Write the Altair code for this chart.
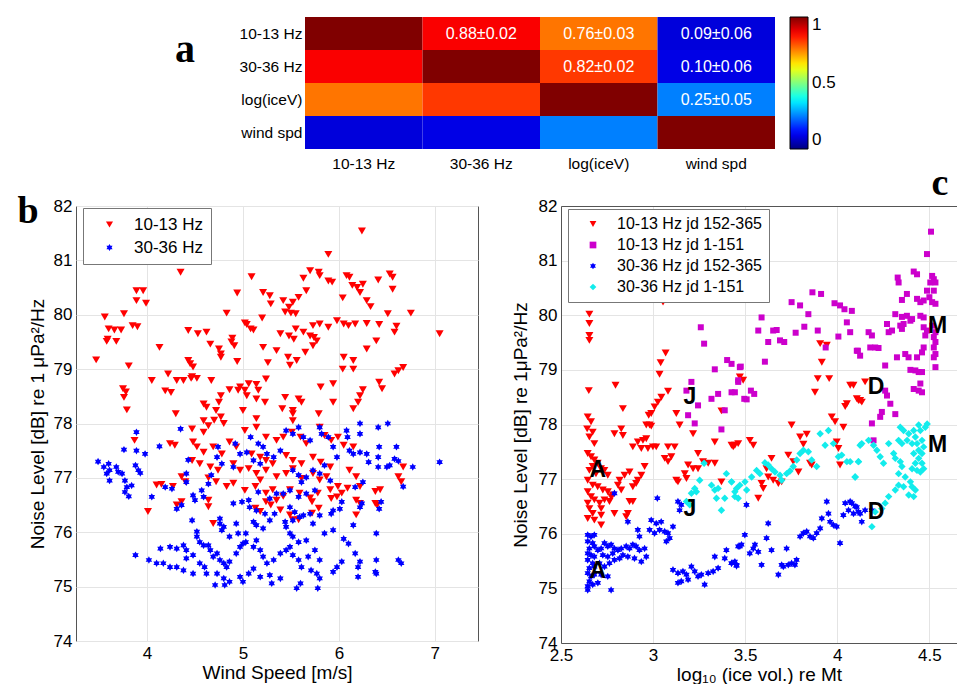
import altair as alt
import pandas as pd

FONT = "Liberation Sans"
SERIF = "Liberation Serif"
FRAME = "#555555"

# ---------------- panel a : correlation matrix ----------------
ROWS = ["10-13 Hz", "30-36 Hz", "log(iceV)", "wind spd"]
CORR = [[1.00, 0.88, 0.76, 0.09],
        [0.88, 1.00, 0.82, 0.10],
        [0.76, 0.82, 1.00, 0.25],
        [0.09, 0.10, 0.25, 1.00]]
CORR_TEXT = [["", "0.88±0.02", "0.76±0.03", "0.09±0.06"],
             ["", "", "0.82±0.02", "0.10±0.06"],
             ["", "", "", "0.25±0.05"],
             ["", "", "", ""]]
JET_STOPS = [0, 0.125, 0.375, 0.625, 0.875, 1]
JET_COLORS = ["#000080", "#0000ff", "#00ffff", "#ffff00", "#ff0000", "#800000"]

# ---------------- panel b : noise vs wind speed ----------------
B_SERIES = ["10-13 Hz", "30-36 Hz"]
B_RED = [(6.24,81.54),(5.89,81.11),(4.35,80.78),(5.09,80.70),(5.70,80.81),(5.79,80.78),(5.80,80.72),(5.63,80.67),(6.08,80.72),(6.11,80.69),(6.41,80.64),(6.53,80.75),(6.56,80.69),(6.14,80.54),(6.19,80.50),(6.25,80.56),(5.89,80.62),(5.93,80.60),(3.89,80.44),(3.96,80.44),(3.89,80.26),(3.99,80.21),(4.94,80.40),(5.66,80.44),(5.58,80.32),(5.52,80.23),(6.04,80.31),(6.56,80.47),(6.22,80.41),(6.29,80.26),(6.33,80.15),(5.21,80.41),(5.28,80.35),(5.29,80.20),(5.42,80.26),(5.48,80.14),(3.56,79.96),(3.76,80.02),(6.75,80.03),(6.51,80.02),(4.83,80.03),(5.44,80.05),(5.50,80.03),(5.55,80.02),(5.20,79.94),(5.98,79.89),(5.04,79.82),(5.02,79.85),(3.60,79.74),(3.66,79.72),(3.73,79.72),(3.59,79.55),(3.58,79.51),(3.68,79.51),(3.85,79.80),(3.90,79.78),(3.47,79.17),(4.43,79.71),(4.53,79.65),(4.62,79.68),(4.89,79.57),(4.88,79.50),(4.91,79.43),(4.66,79.46),(4.75,79.37),(4.77,79.28),(4.77,79.22),(5.08,79.74),(5.11,79.72),(5.39,79.65),(5.48,79.61),(5.53,79.55),(5.55,79.74),(5.63,79.68),(5.70,79.61),(5.74,79.58),(5.73,79.80),(5.80,79.83),(5.89,79.77),(6.05,79.83),(6.10,79.80),(6.17,79.83),(6.29,79.84),(6.42,79.82),(6.60,79.79),(6.58,79.68),(7.05,79.65),(5.21,79.40),(5.35,79.34),(5.47,79.22),(5.56,79.16),(5.49,79.07),(5.65,79.31),(5.73,79.43),(5.77,79.52),(6.29,79.37),(6.39,79.52),(6.05,79.22),(6.15,79.16),(5.26,79.12),(4.94,79.14),(4.43,79.16),(4.45,79.10),(4.48,79.04),(4.47,78.86),(4.13,79.40),(3.81,79.06),(4.05,78.79),(4.22,78.91),(4.31,78.79),(4.38,78.79),(4.46,78.83),(4.52,78.83),(3.75,78.64),(3.78,78.58),(3.76,78.48),(3.79,78.25),(4.19,78.60),(4.25,78.57),(4.67,78.79),(4.97,78.67),(5.06,78.73),(5.02,78.61),(5.04,78.51),(5.14,78.72),(5.16,78.61),(5.24,78.82),(4.86,78.62),(4.95,78.61),(4.77,78.51),(4.75,78.39),(4.59,78.36),(4.62,78.30),(4.30,78.18),(5.14,78.45),(5.23,78.39),(5.44,78.48),(5.58,78.45),(5.61,78.39),(5.52,78.24),(5.81,78.67),(5.94,78.39),(5.94,78.73),(6.04,79.00),(6.15,79.00),(6.42,78.76),(6.45,78.64),(6.25,78.62),(6.22,78.51),(6.20,78.39),(6.15,78.27),(6.67,79.03),(6.62,78.97),(6.58,78.91),(5.41,78.27),(5.52,78.18),(5.52,78.05),(5.79,78.18),(5.00,78.24),(5.14,78.09),(4.72,78.24),(4.77,78.12),(4.70,78.06),(4.80,78.00),(4.47,77.90),(4.59,77.84),(4.64,77.96),(4.59,78.05),(3.87,77.69),(4.24,77.63),(4.29,77.60),(5.02,77.87),(5.14,77.93),(5.24,77.75),(5.35,77.69),(5.42,77.75),(5.51,77.84),(5.60,77.75),(5.66,77.63),(5.80,77.93),(5.85,77.78),(5.92,77.69),(5.99,77.75),(6.05,77.60),(6.15,77.57),(4.48,77.66),(4.52,77.57),(4.59,77.47),(4.69,77.57),(4.78,77.44),(4.86,77.66),(4.93,77.57),(5.09,77.44),(5.18,77.38),(5.24,77.32),(5.31,77.26),(5.45,77.41),(5.52,77.32),(5.61,77.26),(5.73,77.38),(5.81,77.29),(5.91,77.20),(4.47,77.32),(4.55,77.26),(4.66,77.20),(4.74,77.14),(4.90,77.26),(4.97,77.14),(5.06,77.17),(5.14,77.08),(5.24,77.14),(5.35,77.02),(5.45,77.08),(5.52,77.17),(5.61,76.99),(5.73,77.08),(5.80,76.96),(5.87,77.02),(6.11,77.14),(6.18,77.02),(6.62,77.02),(6.65,76.93),(6.67,77.20),(4.36,77.02),(4.40,76.93),(4.27,76.84),(4.10,76.87),(4.15,76.88),(4.64,77.00),(4.72,76.93),(4.83,76.84),(4.90,76.90),(5.02,76.77),(5.13,76.84),(5.18,76.96),(5.24,76.72),(5.31,76.78),(5.42,76.66),(5.49,76.78),(5.59,76.72),(5.70,76.63),(5.78,76.72),(5.91,76.78),(5.99,76.84),(6.03,76.72),(6.09,76.81),(6.22,76.84),(6.38,76.75),(6.43,76.78),(6.18,76.59),(6.22,76.53),(6.38,76.53),(6.40,76.50),(5.24,76.56),(5.29,76.50),(5.35,76.59),(5.13,76.44),(5.18,76.38),(4.36,76.56),(4.31,76.50),(4.01,76.38),(4.64,76.59),(4.64,76.47),(4.69,76.16),(5.39,76.41),(5.49,76.32),(5.52,76.23),(5.58,76.23),(5.72,76.56),(5.79,76.44),(5.72,76.35),(6.18,76.32),(5.92,76.62),(5.98,76.65)]
B_BLUE = [(3.49,77.30),(3.55,77.20),(3.60,77.26),(3.61,77.14),(3.58,77.08),(3.61,76.95),(3.68,77.20),(3.70,77.11),(3.74,77.08),(3.77,76.95),(3.79,76.83),(3.77,76.74),(3.81,76.66),(3.76,77.52),(3.89,77.84),(3.89,77.50),(3.88,77.23),(3.91,77.14),(3.93,77.09),(3.98,77.44),(3.84,76.86),(4.05,76.65),(4.13,77.58),(4.19,76.83),(4.26,76.80),(4.31,76.43),(4.36,76.50),(4.35,77.90),(4.43,77.33),(4.41,77.08),(4.41,76.92),(4.48,76.68),(4.50,76.59),(4.59,76.65),(4.57,76.77),(4.64,76.89),(4.67,77.05),(4.74,77.57),(4.73,77.38),(4.78,77.26),(4.90,77.20),(4.92,77.63),(4.97,77.44),(5.04,77.47),(5.08,77.75),(5.16,77.63),(5.21,77.57),(5.11,77.32),(5.18,77.26),(5.25,77.44),(5.32,77.38),(5.39,77.50),(5.45,77.87),(5.52,77.81),(5.58,77.93),(5.63,77.75),(5.70,77.69),(5.80,77.93),(5.82,77.81),(5.89,77.75),(5.94,77.57),(5.98,77.38),(6.08,77.87),(6.09,77.75),(6.22,78.00),(6.22,77.81),(6.11,77.50),(6.15,77.44),(6.22,77.47),(6.29,77.44),(6.31,77.29),(6.41,77.38),(6.41,77.93),(6.51,78.00),(6.42,77.57),(6.60,77.57),(6.41,77.20),(6.50,77.20),(6.53,77.23),(6.58,77.35),(6.62,77.31),(6.77,77.20),(6.67,76.84),(7.05,77.29),(6.25,76.92),(6.17,76.83),(6.24,76.53),(6.22,76.46),(6.15,76.13),(6.39,75.98),(6.44,76.56),(6.42,76.43),(6.03,76.56),(6.01,76.43),(5.94,76.40),(5.92,76.34),(5.94,76.04),(5.85,75.98),(6.05,75.88),(6.10,75.79),(6.03,75.46),(5.98,75.36),(5.94,75.27),(6.17,75.61),(6.20,75.36),(6.20,75.18),(6.22,75.46),(6.39,75.49),(6.38,75.27),(6.39,75.24),(6.62,75.49),(6.65,75.43),(5.52,77.14),(5.58,77.05),(5.61,76.92),(5.66,77.01),(5.73,77.14),(5.80,77.08),(5.85,77.23),(5.91,76.95),(5.49,76.77),(5.58,76.65),(5.66,76.71),(5.75,76.77),(5.49,76.46),(5.54,76.37),(5.63,76.31),(5.70,76.34),(5.44,76.19),(5.52,76.22),(5.59,76.28),(5.73,76.16),(5.80,76.31),(5.42,76.71),(5.35,76.71),(5.28,76.62),(5.16,76.74),(5.06,76.59),(4.99,76.56),(4.90,76.53),(5.07,76.46),(5.14,76.40),(5.23,76.34),(5.28,76.22),(5.33,76.34),(5.21,76.07),(5.14,76.13),(5.11,76.19),(4.76,76.25),(4.76,76.16),(4.80,76.10),(4.78,76.04),(4.86,75.92),(4.93,76.16),(4.95,75.98),(5.03,75.98),(5.03,75.82),(4.47,76.22),(4.52,76.01),(4.52,75.92),(4.55,75.82),(4.59,75.76),(4.64,75.76),(4.66,75.67),(4.69,75.55),(4.73,75.61),(4.76,75.49),(4.80,75.43),(4.83,75.36),(4.86,75.46),(4.93,75.61),(4.97,75.73),(5.00,75.79),(5.11,75.73),(5.14,75.85),(5.18,75.67),(5.21,75.55),(5.25,75.43),(5.32,75.49),(5.39,75.61),(5.45,75.67),(5.49,75.73),(5.52,75.58),(5.58,75.49),(5.61,75.36),(5.68,75.55),(5.75,75.67),(5.80,75.49),(5.71,75.30),(5.77,75.24),(5.80,75.15),(5.78,74.97),(5.56,74.97),(5.60,75.06),(5.30,75.06),(5.39,75.15),(5.28,75.21),(5.18,75.18),(5.11,75.33),(5.06,75.24),(5.00,75.09),(4.97,75.18),(4.86,75.09),(4.80,75.15),(4.73,75.24),(4.71,75.03),(4.81,75.03),(4.62,75.24),(4.60,75.36),(4.55,75.43),(4.48,75.24),(4.38,75.30),(4.31,75.36),(4.24,75.36),(4.17,75.43),(4.10,75.43),(4.02,75.49),(3.88,75.58),(4.14,75.70),(4.24,75.73),(4.31,75.70),(4.38,75.76),(4.41,75.67),(4.48,75.58),(4.41,75.52),(5.45,76.10),(5.49,75.98),(5.52,75.92),(5.66,75.85),(5.58,75.82)]

# ---------------- panel c : noise vs ice volume ----------------
C_SERIES = ["10-13 Hz jd 152-365", "10-13 Hz jd 1-151", "30-36 Hz jd 152-365", "30-36 Hz jd 1-151"]
C_RED = [(2.654,80.02),(2.654,79.85),(2.654,79.63),(2.654,79.54),(3.054,80.24),(3.068,79.31),(3.041,79.13),(3.035,78.92),(2.651,78.62),(2.796,78.72),(2.836,78.29),(3.081,78.61),(3.045,78.50),(3.026,78.41),(3.008,78.32),(2.990,78.20),(2.976,78.17),(3.126,78.20),(3.144,77.99),(3.217,77.83),(2.645,78.14),(2.663,78.05),(2.642,77.92),(2.672,77.86),(2.654,77.77),(2.681,77.65),(2.790,77.83),(2.827,77.92),(2.836,77.80),(2.963,77.99),(2.981,77.99),(2.990,77.97),(2.890,77.59),(2.917,77.68),(2.945,77.71),(2.963,77.74),(2.936,77.56),(2.972,77.56),(2.999,77.59),(3.017,77.59),(3.081,77.59),(3.117,77.59),(3.063,77.38),(3.099,77.41),(3.081,77.32),(3.244,77.47),(3.271,77.32),(3.299,77.29),(3.335,77.29),(3.435,77.59),(3.426,77.62),(3.335,77.68),(3.371,76.95),(3.190,77.26),(3.217,77.19),(3.244,77.19),(3.126,76.98),(3.135,76.95),(3.172,77.10),(3.181,77.01),(2.954,77.23),(2.936,77.07),(2.917,76.98),(2.908,76.92),(2.890,76.86),(2.872,77.13),(2.845,77.07),(2.818,76.98),(2.809,76.89),(2.827,76.80),(2.645,77.47),(2.663,77.41),(2.681,77.35),(2.699,77.29),(2.672,77.23),(2.654,77.16),(2.690,77.10),(2.717,77.19),(2.735,77.16),(2.754,77.07),(2.645,76.98),(2.672,76.89),(2.699,76.86),(2.727,76.80),(2.754,76.77),(2.781,76.71),(2.645,76.77),(2.663,76.68),(2.681,76.62),(2.709,76.56),(2.736,76.62),(2.763,76.59),(2.772,76.68),(2.645,76.56),(2.654,76.46),(2.672,76.37),(2.645,76.28),(2.681,76.25),(2.718,76.34),(2.718,76.46),(2.790,76.37),(2.863,76.37),(2.872,76.59),(2.890,76.59),(2.854,76.31),(2.718,76.16),(3.907,79.48),(3.943,79.45),(3.916,79.14),(3.894,78.84),(3.956,78.84),(3.879,78.59),(4.070,78.72),(4.088,78.72),(4.106,78.47),(4.124,78.44),(4.052,78.38),(4.043,78.33),(3.970,78.14),(3.988,78.05),(4.033,77.95),(3.752,77.99),(3.798,77.77),(3.834,77.82),(3.816,77.64),(3.444,77.62),(3.462,77.65),(3.525,77.71),(3.544,77.62),(3.997,77.68),(4.006,77.56),(3.643,77.38),(3.734,77.44),(3.761,77.32),(3.789,77.13),(3.852,77.29),(3.861,77.26),(3.616,77.19),(3.625,77.04),(3.652,76.98),(3.680,76.92),(3.698,76.95),(3.589,76.92),(3.598,76.83),(3.571,76.65),(4.015,77.26),(4.151,78.78),(4.115,78.44),(4.133,78.41),(3.471,78.87),(3.489,78.81),(3.371,78.25)]
C_MAG = [(3.259,79.78),(3.277,79.48),(3.402,79.18),(3.426,79.11),(3.335,79.01),(3.471,79.05),(3.208,78.78),(3.181,78.62),(3.244,78.35),(3.190,78.17),(3.226,78.02),(3.317,78.47),(3.353,78.56),(3.389,78.26),(3.371,77.91),(3.444,78.59),(3.462,78.78),(3.589,79.96),(3.571,79.72),(3.625,79.51),(3.607,79.15),(3.652,79.72),(3.671,79.73),(3.689,79.54),(3.712,79.51),(3.752,80.24),(3.798,80.18),(3.843,80.02),(3.865,80.42),(3.912,80.39),(3.821,79.79),(3.774,79.68),(3.894,79.72),(3.985,80.22),(4.015,80.18),(4.039,80.11),(4.052,79.87),(4.070,79.69),(4.006,79.61),(3.937,79.41),(4.112,79.35),(3.476,79.06),(3.462,78.81),(3.426,78.59),(3.495,78.47),(3.531,78.62),(3.549,78.56),(3.508,78.46),(4.509,81.53),(4.487,81.12),(4.415,80.80),(4.433,80.75),(4.328,80.69),(4.333,80.60),(4.515,80.72),(4.524,80.66),(4.533,80.60),(4.505,80.60),(4.487,80.45),(4.524,80.45),(4.500,80.33),(4.351,80.28),(4.378,80.39),(4.433,80.30),(4.451,80.24),(4.469,80.27),(4.515,80.24),(4.533,80.21),(4.315,80.02),(4.351,79.97),(4.378,79.99),(4.406,79.93),(4.360,79.84),(4.342,79.81),(4.451,79.99),(4.469,79.96),(4.270,79.84),(4.297,79.72),(4.279,79.69),(4.351,79.75),(4.397,79.90),(4.469,79.78),(4.487,79.72),(4.478,79.63),(4.515,79.81),(4.533,79.69),(4.524,79.60),(4.533,79.51),(4.524,79.41),(4.533,79.29),(4.524,79.23),(4.533,79.05),(4.469,79.41),(4.460,79.32),(4.433,79.23),(4.369,79.29),(4.387,79.23),(4.324,79.23),(4.424,78.99),(4.397,79.00),(4.442,78.96),(4.460,78.96),(4.260,79.08),(4.451,78.75),(4.415,78.65),(4.442,78.62),(4.460,78.59),(4.170,79.69),(4.188,79.63),(4.179,79.41),(4.206,79.41),(4.224,79.40),(4.124,79.26),(4.106,79.35),(4.079,80.08),(4.260,78.62),(4.270,78.53),(4.288,78.38),(4.242,78.23),(4.233,78.14),(4.188,78.02),(4.315,78.19),(4.197,77.71)]
C_BLUE = [(2.645,75.98),(2.663,75.95),(2.681,75.98),(2.645,75.86),(2.672,75.83),(2.654,75.73),(2.681,75.77),(2.645,75.64),(2.663,75.61),(2.681,75.58),(2.645,75.52),(2.672,75.46),(2.654,75.37),(2.681,75.40),(2.645,75.28),(2.663,75.22),(2.681,75.25),(2.654,75.13),(2.645,75.04),(2.672,75.07),(2.645,74.97),(2.700,75.70),(2.718,75.73),(2.736,75.83),(2.754,75.77),(2.772,75.80),(2.790,75.73),(2.727,75.61),(2.754,75.58),(2.781,75.64),(2.809,75.70),(2.827,75.73),(2.854,75.77),(2.872,75.73),(2.890,75.80),(2.908,75.77),(2.926,75.70),(2.954,75.73),(2.963,75.58),(2.936,75.49),(2.899,75.55),(2.863,75.58),(2.836,75.61),(2.818,75.55),(2.790,75.52),(2.763,75.46),(2.736,75.40),(2.709,75.46),(2.718,75.25),(2.754,75.22),(2.700,75.10),(2.772,74.97),(2.863,76.22),(2.990,76.25),(3.017,76.19),(3.044,76.22),(2.981,76.07),(3.008,76.01),(3.035,76.07),(3.063,76.04),(3.081,76.01),(3.090,75.92),(3.072,75.86),(3.108,76.13),(2.917,76.07),(2.926,75.95),(2.790,76.74),(3.023,76.65),(3.135,76.59),(3.153,76.53),(3.144,76.43),(3.108,75.34),(3.135,75.28),(3.162,75.31),(3.181,75.25),(3.208,75.40),(3.226,75.31),(3.244,75.22),(3.262,75.25),(3.299,75.28),(3.326,75.31),(3.353,75.37),(3.398,75.70),(3.389,75.55),(3.426,75.46),(3.453,75.43),(3.471,75.77),(3.335,75.58),(3.135,75.10),(3.153,75.13),(3.190,75.16),(3.280,75.07),(3.507,76.53),(3.498,75.98),(3.480,75.80),(3.462,75.77),(3.525,75.64),(3.553,75.80),(3.544,75.73),(3.571,75.67),(3.589,75.43),(3.616,75.92),(3.625,76.19),(3.643,75.70),(3.707,75.40),(3.698,75.43),(3.725,75.73),(3.734,75.43),(3.752,75.46),(3.770,75.43),(3.779,75.52),(3.680,75.25),(3.444,75.49),(3.426,75.46),(3.453,75.41),(3.798,75.95),(3.816,76.01),(3.834,76.04),(3.852,75.95),(3.870,75.92),(3.888,76.01),(3.907,76.10),(3.916,76.28),(3.952,76.37),(3.961,76.22),(3.979,76.16),(3.997,76.13),(3.943,76.59),(4.015,75.83),(4.033,76.34),(4.043,76.56),(4.070,76.59),(4.061,76.43),(4.088,76.37),(4.115,76.40),(4.106,76.49),(4.079,76.56),(4.097,76.50),(4.124,76.37),(4.133,76.22),(4.151,76.43),(4.188,76.43)]
C_CYAN = [(3.277,77.29),(3.253,76.98),(3.226,76.83),(3.208,76.74),(3.235,76.77),(3.317,76.89),(3.335,76.80),(3.353,76.83),(3.344,76.65),(3.389,76.65),(3.371,76.43),(3.398,77.10),(3.426,76.95),(3.444,76.77),(3.462,76.65),(3.471,76.89),(3.181,76.59),(3.199,76.53),(3.426,76.95),(3.453,76.83),(3.444,76.68),(3.499,76.95),(3.508,76.80),(3.535,77.04),(3.562,77.16),(3.580,77.10),(3.607,77.30),(3.625,77.26),(3.643,77.19),(3.662,77.13),(3.689,77.07),(3.698,76.98),(3.725,77.10),(3.743,77.15),(3.761,77.23),(3.780,77.35),(3.798,77.47),(3.816,77.53),(3.843,77.50),(3.861,77.35),(3.888,77.23),(3.907,77.83),(3.952,77.89),(3.934,77.62),(3.979,77.65),(4.006,77.41),(4.024,77.44),(4.052,77.32),(4.070,77.32),(4.097,77.04),(4.115,77.32),(4.124,77.62),(4.342,77.95),(4.360,77.89),(4.388,77.83),(4.379,77.71),(4.351,77.65),(4.333,77.71),(4.415,77.89),(4.442,77.99),(4.451,77.89),(4.424,77.77),(4.406,77.65),(4.433,77.65),(4.460,77.71),(4.469,77.59),(4.442,77.53),(4.415,77.47),(4.460,77.47),(4.442,77.38),(4.424,77.29),(4.460,77.29),(4.406,77.19),(4.433,77.16),(4.451,77.13),(4.469,77.19),(4.488,78.01),(4.478,77.95),(4.133,77.65),(4.170,77.71),(4.197,77.62),(4.215,77.53),(4.233,77.41),(4.251,77.29),(4.279,77.65),(4.306,77.47),(4.315,77.38),(4.342,77.32),(4.351,77.23),(4.333,77.10),(4.369,77.04),(4.397,76.95),(4.406,76.86),(4.424,76.80),(4.415,76.68),(4.388,76.71),(4.360,76.86),(4.333,76.89),(4.315,76.80),(4.279,76.68),(4.260,76.56),(4.242,76.46),(4.206,76.40),(4.188,76.13),(4.115,77.32),(4.097,77.04)]
C_LABELS = [("A", 2.70, 77.16), ("A", 2.70, 75.31), ("J", 3.20, 78.50), ("J", 3.20, 76.46),
            ("D", 4.21, 78.68), ("D", 4.21, 76.40), ("M", 4.545, 79.81), ("M", 4.545, 77.62)]

STAR = "M0,-1L0.29,-0.5L0.87,-0.5L0.58,0L0.87,0.5L0.29,0.5L0,1L-0.29,0.5L-0.87,0.5L-0.58,0L-0.87,-0.5L-0.29,-0.5Z"

# ================= build panel a =================
HEAT_SHIFT = 229   # blank room to the left of the matrix, above panel b
HEAT_W = 470
heat_rows = []
for i, r in enumerate(ROWS):
    for j, c in enumerate(ROWS):
        heat_rows.append({"row": r, "col": c, "v": CORR[i][j], "label": CORR_TEXT[i][j]})
heat_df = pd.DataFrame(heat_rows)

hx = alt.X("col:N", sort=ROWS,
           scale=alt.Scale(paddingInner=0, paddingOuter=0, range=[HEAT_SHIFT, HEAT_SHIFT + HEAT_W]),
           axis=alt.Axis(title=None, labelAngle=0, ticks=False, domain=False, labelFontSize=15.5,
                         labelPadding=7, labelColor="black", labelFont=FONT))
hy = alt.Y("row:N", sort=ROWS, scale=alt.Scale(paddingInner=0, paddingOuter=0),
           axis=alt.Axis(title=None, ticks=False, domain=False, labelFontSize=15.5, offset=-HEAT_SHIFT,
                         labelPadding=3, labelColor="black", labelFont=FONT))

heat_rect = alt.Chart(heat_df).mark_rect().encode(
    x=hx, y=hy,
    color=alt.Color("v:Q",
                    scale=alt.Scale(domain=JET_STOPS, range=JET_COLORS, interpolate="rgb"),
                    legend=alt.Legend(title=None, orient="right", offset=15, padding=0,
                                      gradientLength=132, gradientThickness=18,
                                      gradientStrokeColor="black", gradientStrokeWidth=1,
                                      values=[0, 0.5, 1], format="~g", labelFontSize=17,
                                      labelFont=FONT, labelColor="black", labelOffset=4,
                                      direction="vertical")),
)
heat_text = alt.Chart(heat_df[heat_df["label"] != ""]).mark_text(
    color="white", fontSize=16, font=FONT).encode(x=hx, y=hy, text="label:N")
letter_a = alt.Chart(pd.DataFrame({"t": ["a"]})).mark_text(
    font=SERIF, fontWeight="bold", fontSize=40, color="black", align="center", baseline="middle"
).encode(x=alt.value(HEAT_SHIFT - 120), y=alt.value(33), text="t:N")

heat = alt.layer(heat_rect, heat_text, letter_a).properties(
    width=HEAT_SHIFT + HEAT_W, height=132, view=alt.ViewBackground(strokeOpacity=0))

# ================= common axis style =================
AX = dict(grid=True, gridColor="#e4e4e4", ticks=False, domain=False, labelFontSize=17,
          titleFontSize=19, labelColor="black", titleColor="black", titleFontWeight="normal",
          labelFont=FONT, titleFont=FONT, labelPadding=4, labelFlush=False)

# ================= build panel b =================
b_df = pd.concat([
    pd.DataFrame(B_RED, columns=["x", "y"]).assign(s=B_SERIES[0]),
    pd.DataFrame(B_BLUE, columns=["x", "y"]).assign(s=B_SERIES[1]),
], ignore_index=True)

leg_b = alt.Legend(title=None, orient="none", legendX=7, legendY=2, fillColor="white",
                   strokeColor="#777777", padding=8, labelFontSize=17, labelFont=FONT,
                   labelColor="black", symbolSize=50, rowPadding=5, labelOffset=16,
                   symbolOffset=10, symbolStrokeWidth=0)
bx = alt.X("x:Q", scale=alt.Scale(domain=[3.26, 7.45], nice=False, zero=False),
           axis=alt.Axis(values=[4, 5, 6, 7], title="Wind Speed [m/s]", titlePadding=2, **AX))
by = alt.Y("y:Q", scale=alt.Scale(domain=[74, 82], nice=False, zero=False),
           axis=alt.Axis(values=list(range(74, 83)), title="Noise Level [dB] re 1 μPa²/Hz",
                         titlePadding=6, **AX))
bcol = alt.Color("s:N", scale=alt.Scale(domain=B_SERIES, range=["#ff0000", "#0000ff"]), legend=leg_b)
bshp = alt.Shape("s:N", scale=alt.Scale(domain=B_SERIES, range=["triangle-down", STAR]), legend=leg_b)

b_red = alt.Chart(b_df).transform_filter(alt.datum.s == B_SERIES[0]).mark_point(
    filled=True, opacity=1, size=64).encode(x=bx, y=by, color=bcol, shape=bshp)
b_blue = alt.Chart(b_df).transform_filter(alt.datum.s == B_SERIES[1]).mark_point(
    filled=True, opacity=1, size=55).encode(x=bx, y=by, color=bcol, shape=bshp)
letter_b = alt.Chart(pd.DataFrame({"t": ["b"]})).mark_text(
    font=SERIF, fontWeight="bold", fontSize=38, color="black", align="center", baseline="middle"
).encode(x=alt.value(-48), y=alt.value(6), text="t:N")
panel_b = alt.layer(b_red, b_blue, letter_b).properties(width=402, height=435)

# ================= build panel c =================
c_df = pd.concat([
    pd.DataFrame(C_RED, columns=["x", "y"]).assign(s=C_SERIES[0]),
    pd.DataFrame(C_MAG, columns=["x", "y"]).assign(s=C_SERIES[1]),
    pd.DataFrame(C_BLUE, columns=["x", "y"]).assign(s=C_SERIES[2]),
    pd.DataFrame(C_CYAN, columns=["x", "y"]).assign(s=C_SERIES[3]),
], ignore_index=True)
c_lab_df = pd.DataFrame(C_LABELS, columns=["t", "x", "y"])

CXS = alt.Scale(domain=[2.5, 4.65], nice=False, zero=False)
CYS = alt.Scale(domain=[74, 82], nice=False, zero=False)
AXC = dict(AX)
AXC["domain"] = True
AXC["domainColor"] = FRAME
leg_c = alt.Legend(title=None, orient="none", legendX=7, legendY=3, fillColor="white",
                   strokeColor="#777777", padding=7, labelFontSize=16, labelFont=FONT,
                   labelColor="black", symbolSize=45, rowPadding=5, labelOffset=16,
                   symbolOffset=10, symbolStrokeWidth=0)
cx = alt.X("x:Q", scale=CXS, axis=alt.Axis(values=[2.5, 3, 3.5, 4, 4.5], format="~g",
                                           title="log₁₀ (ice vol.) re Mt", titlePadding=2, **AXC))
cy = alt.Y("y:Q", scale=CYS, axis=alt.Axis(values=list(range(74, 83)),
                                           title="Noise Level [dB] re 1μPa²/Hz",
                                           titlePadding=8, **AXC))
ccol = alt.Color("s:N", scale=alt.Scale(domain=C_SERIES,
                                        range=["#ff0000", "#cc00cc", "#0000ff", "#12ecec"]),
                 legend=leg_c)
cshp = alt.Shape("s:N", scale=alt.Scale(domain=C_SERIES,
                                        range=["triangle-down", "square", STAR, "diamond"]),
                 legend=leg_c)
C_SIZES = [64, 36, 55, 55]
c_layers = []
for k, s in enumerate(C_SERIES):
    c_layers.append(alt.Chart(c_df).transform_filter(alt.datum.s == s).mark_point(
        filled=True, opacity=1, size=C_SIZES[k]).encode(x=cx, y=cy, color=ccol, shape=cshp))
c_pts = alt.layer(*c_layers)
c_ann = alt.Chart(c_lab_df).mark_text(font=FONT, fontWeight="bold", fontSize=23, color="black").encode(
    x=alt.X("x:Q", scale=CXS, axis=alt.Axis(orient="top", labels=False, ticks=False, grid=False,
                                            domain=True, domainColor=FRAME, title=None)),
    y=alt.Y("y:Q", scale=CYS, axis=None),
    text="t:N")
letter_c = alt.Chart(pd.DataFrame({"t": ["c"]})).mark_text(
    font=SERIF, fontWeight="bold", fontSize=38, color="black", align="center", baseline="middle"
).encode(x=alt.value(379), y=alt.value(-22), text="t:N")
panel_c = alt.layer(c_pts, c_ann, letter_c).resolve_axis(x="independent", y="independent").properties(
    width=396, height=437, view=alt.ViewBackground(strokeOpacity=0))

# ================= assemble =================
bottom = alt.hconcat(panel_b, panel_c, spacing=83, bounds="flush").resolve_scale(
    color="independent", shape="independent")
chart = alt.vconcat(heat, bottom, spacing=57, bounds="flush").resolve_scale(
    color="independent", shape="independent"
).properties(
    padding={"left": 8, "top": 9, "right": 0, "bottom": 0}
).configure(font=FONT).configure_view(stroke=FRAME, strokeWidth=1)

chart.save("out.html", embed_options={"renderer": "svg", "actions": False})
